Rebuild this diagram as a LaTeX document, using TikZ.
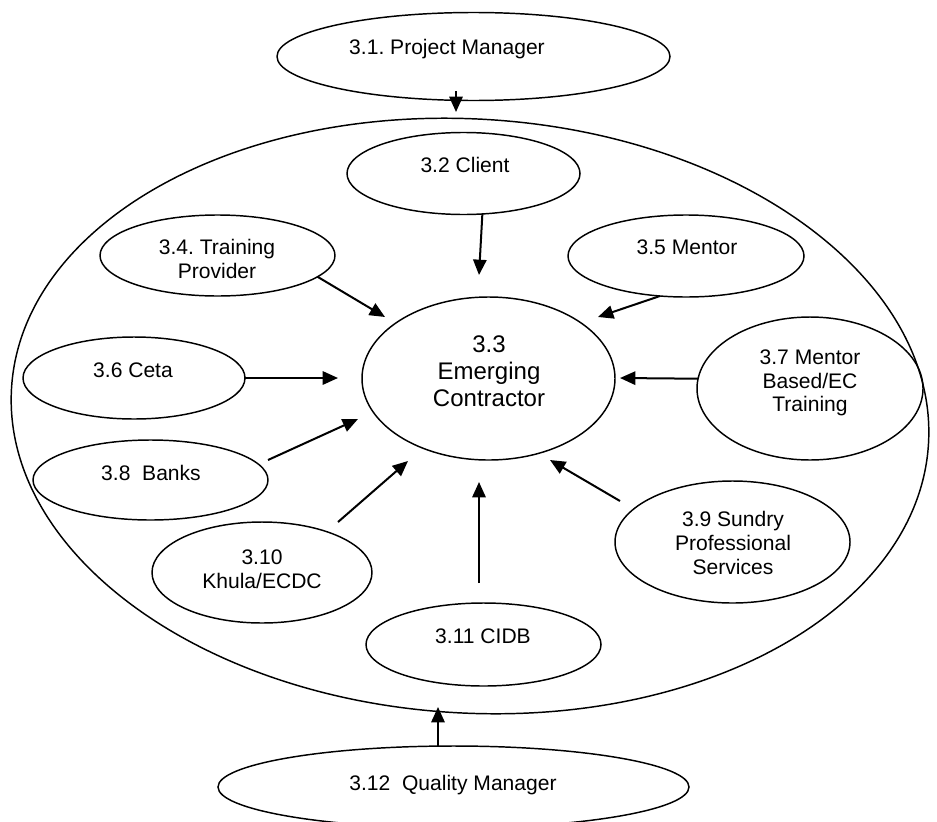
\documentclass[tikz,border=0pt]{standalone}
\usepackage{fontspec}
\setmainfont{Liberation Sans}
\usetikzlibrary{shapes.geometric, arrows.meta}
\frenchspacing
\begin{document}
\begin{tikzpicture}[x=0.75pt, y=-0.75pt,
  oval/.style={draw, ellipse, line width=1.1pt, inner sep=0pt, outer sep=0pt},
  ov/.style 2 args={oval, minimum width=#1*1.5pt, minimum height=#2*1.5pt},
  lbl/.style={font=\fontsize{15.8}{17.8}\selectfont, align=center, inner sep=0pt},
  biglbl/.style={font=\fontsize{18}{20.3}\selectfont, align=center, inner sep=0pt},
  arr/.style={line width=1.5pt, -{Triangle[length=11.5pt,width=10pt]}}]
\useasboundingbox (0,0) rectangle (937,821);

% outer ellipse
\node[oval, minimum width=689pt, minimum height=445.5pt, rotate=-3.5] (big) at (470,416) {};

% ellipses
\node[ov={196.5}{44}] (pm) at (473.5,56.5) {};
\node[ov={116.5}{41}] (client) at (463.5,173.5) {};
\node[ov={117.5}{40.5}] (tp) at (217.5,255.5) {};
\node[ov={118}{41}] (mentor) at (686,256) {};
\node[ov={126.5}{81.5}] (ec) at (488.5,378.5) {};
\node[ov={111}{41}] (ceta) at (134,378) {};
\node[ov={113}{71.5}] (mb) at (810,388.5) {};
\node[ov={117.5}{40}] (banks) at (150.5,480) {};
\node[ov={110}{50.5}] (khula) at (262,572.5) {};
\node[ov={117.5}{61}] (sundry) at (732.5,542) {};
\node[ov={117.5}{41.5}] (cidb) at (483.5,644.5) {};
\node[ov={235.5}{41}] (qm) at (453.5,787) {};

% texts
\node[lbl] (pmT) at (447,49) {3.1. Project Manager};
\node[lbl] (clientT) at (465,165) {3.2 Client};
\node[lbl] (tpT) at (217,259) {3.4. Training\\Provider};
\node[lbl] (mentorT) at (687,247) {3.5 Mentor};
\node[biglbl] (ecT) at (489,371) {3.3\\Emerging\\Contractor};
\node[lbl] (cetaT) at (133,370) {3.6 Ceta};
\node[lbl] (mbT) at (810,383) {3.7 Mentor\\Based/EC\\Training};
\node[lbl] (banksT) at (151,473) {3.8\ \ Banks};
\node[lbl] (khulaT) at (262,569) {3.10\\Khula/ECDC};
\node[lbl] (sundryT) at (733,543) {3.9 Sundry\\Professional\\Services};
\node[lbl] (cidbT) at (483,636) {3.11 CIDB};
\node[lbl] (qmT) at (453,785) {3.12\ \ Quality Manager};

% free ends
\coordinate (s1) at (456,91);
\coordinate (t1) at (456,112);
\coordinate (t2) at (479,275);
\coordinate (t3) at (385,317);
\coordinate (t4) at (598,317);
\coordinate (t5) at (338,378);
\coordinate (t6) at (620,378);
\coordinate (s7) at (268,460);
\coordinate (t7) at (358,419);
\coordinate (s8) at (338,522);
\coordinate (t8) at (408,461);
\coordinate (s9) at (479,583);
\coordinate (t9) at (479,482);
\coordinate (s10) at (620,501);
\coordinate (t10) at (550,460);
\coordinate (t11) at (438,707);

% connectors
\draw[arr] (s1) -- (t1);
\draw[arr] (client.-65) -- (t2);
\draw[arr] (tp.-12) -- (t3);
\draw[arr] (mentor.-123) -- (t4);
\draw[arr] (ceta.east) -- (t5);
\draw[arr] (mb.175) -- (t6);
\draw[arr] (s7) -- (t7);
\draw[arr] (s8) -- (t8);
\draw[arr] (s9) -- (t9);
\draw[arr] (s10) -- (t10);
\draw[arr] (qm.north -| t11) -- (t11);
\end{tikzpicture}
\end{document}
